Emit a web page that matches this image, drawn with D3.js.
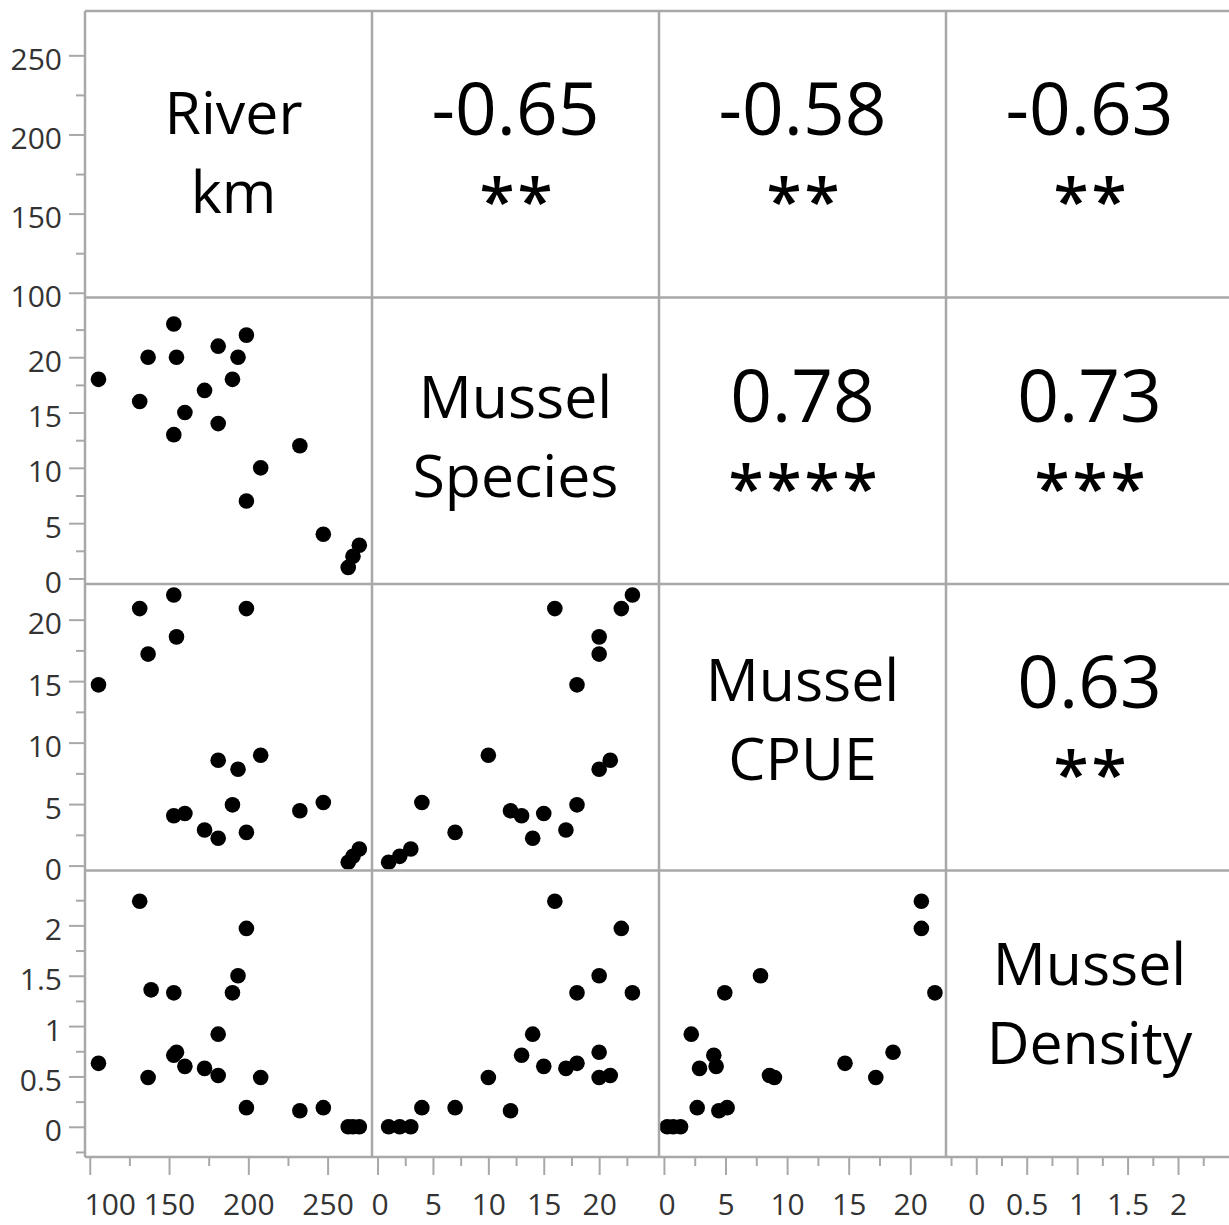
<!DOCTYPE html>
<html><head><meta charset="utf-8">
<script src="https://cdn.jsdelivr.net/npm/d3@7"></script>
<style>body{margin:0;background:#fff} svg{display:block}</style>
</head><body>
<svg id="chart" width="1229" height="1225"></svg>
<script>
// ---- data ----
const variables = ["River km", "Mussel Species", "Mussel CPUE", "Mussel Density"];
const labelLines = [["River", "km"], ["Mussel", "Species"], ["Mussel", "CPUE"], ["Mussel", "Density"]];
const riverKm =       [105.5, 131.5, 136.8, 153, 154.7, 153, 160, 172.4, 181, 181, 190, 193.5, 198.8, 198.8, 207.8, 232.5, 247.3, 263, 266, 270, 138.7];
const musselSpecies = [18, 16, 20, 23, 20, 13, 15, 17, 21, 14, 18, 20, 22, 7, 10, 12, 4, 1, 2, 3, null];
const musselCPUE =    [14.7, 20.9, 17.2, 22.0, 18.6, 4.05, 4.24, 2.89, 8.57, 2.22, 4.94, 7.84, 20.9, 2.7, 8.97, 4.46, 5.13, 0.27, 0.75, 1.35, null];
const musselDensity = [0.63, 2.24, 0.49, 1.33, 0.74, 0.71, 0.60, 0.58, 0.51, 0.92, 1.33, 1.50, 1.97, 0.19, 0.49, 0.16, 0.19, 0, 0, 0, 1.36];
const domains = [[97, 278], [-0.5, 25.4], [-0.4, 22.9], [-0.3, 2.545]];
const majorTicks = [[100, 150, 200, 250], [0, 5, 10, 15, 20], [0, 5, 10, 15, 20], [0, 0.5, 1, 1.5, 2]];
const minorTicks = [[125, 175, 225], [2.5, 7.5, 12.5, 17.5, 22.5], [2.5, 7.5, 12.5, 17.5], [-0.25, 0.25, 0.75, 1.25, 1.75, 2.25]];
const corrPairs = [[0, 1], [0, 2], [0, 3], [1, 2], [1, 3], [2, 3]];
const corrValues = ["-0.65", "-0.58", "-0.63", "0.78", "0.73", "0.63"];
const corrStars = ["**", "**", "**", "****", "***", "**"];

const series = [riverKm, musselSpecies, musselCPUE, musselDensity];

// ---- layout ----
const gLeft = 85, gTop = 11, cellW = 287, cellH = 286.5, n = 4;
const gridColor = "#a8a8a8";
const font = "'Open Sans', 'Noto Sans', sans-serif";

const svg = d3.select("#chart");
const xS = domains.map((d, i) => d3.scaleLinear().domain(d).range([gLeft + i * cellW, gLeft + (i + 1) * cellW]));
const yS = domains.map((d, i) => d3.scaleLinear().domain(d).range([gTop + (i + 1) * cellH, gTop + i * cellH]));

const defs = svg.append("defs");
for (let r = 0; r < n; r++) for (let c = 0; c < n; c++) {
  defs.append("clipPath").attr("id", `clip-${r}-${c}`)
    .append("rect").attr("x", gLeft + c * cellW + 1).attr("y", gTop + r * cellH + 1)
    .attr("width", cellW - 2).attr("height", cellH - 2);
}

// points (lower triangle)
const idx = d3.range(riverKm.length);
for (let r = 0; r < n; r++) for (let c = 0; c < r; c++) {
  const pts = idx.filter(k => series[c][k] != null && series[r][k] != null);
  svg.append("g").attr("clip-path", `url(#clip-${r}-${c})`)
    .selectAll("circle").data(pts).join("circle")
    .attr("cx", k => xS[c](series[c][k]))
    .attr("cy", k => yS[r](series[r][k]))
    .attr("r", 7.8).attr("fill", "#000");
}

// grid lines
const gridG = svg.append("g").attr("stroke", gridColor).attr("stroke-width", 2.5).attr("fill", "none");
for (let i = 0; i <= n; i++) {
  gridG.append("line").attr("x1", gLeft + i * cellW).attr("x2", gLeft + i * cellW)
    .attr("y1", gTop).attr("y2", gTop + n * cellH);
  gridG.append("line").attr("x1", gLeft).attr("x2", gLeft + n * cellW)
    .attr("y1", gTop + i * cellH).attr("y2", gTop + i * cellH);
}

// y axes (left)
const fmt = d3.format("~g");
const tickFont = 30;
for (let i = 0; i < n; i++) {
  const gMinor = svg.append("g").attr("transform", `translate(${gLeft},0)`)
    .call(d3.axisLeft(yS[i]).tickValues(minorTicks[i]).tickSize(9).tickFormat(""));
  const gMajor = svg.append("g").attr("transform", `translate(${gLeft},0)`)
    .call(d3.axisLeft(yS[i]).tickValues(majorTicks[i]).tickSize(16).tickPadding(7).tickFormat(fmt));
  [gMinor, gMajor].forEach(g => {
    g.select(".domain").remove();
    g.selectAll(".tick line").attr("stroke", gridColor).attr("stroke-width", 2);
    g.selectAll("text").attr("font-family", font).attr("font-size", tickFont).attr("fill", "#333").attr("dy", "0.47em");
  });
}

// x axes (bottom)
const gBottom = gTop + n * cellH;
for (let i = 0; i < n; i++) {
  const gMinor = svg.append("g").attr("transform", `translate(0,${gBottom})`)
    .call(d3.axisBottom(xS[i]).tickValues(minorTicks[i]).tickSize(9).tickFormat(""));
  const gMajor = svg.append("g").attr("transform", `translate(0,${gBottom})`)
    .call(d3.axisBottom(xS[i]).tickValues(majorTicks[i]).tickSize(18).tickPadding(19).tickFormat(fmt));
  [gMinor, gMajor].forEach(g => {
    g.select(".domain").remove();
    g.selectAll(".tick line").attr("stroke", gridColor).attr("stroke-width", 2);
    g.selectAll("text").attr("font-family", font).attr("font-size", tickFont).attr("fill", "#333");
  });
  const cellLeft = gLeft + i * cellW;
  gMajor.selectAll(".tick").each(function (d) {
    const t = d3.select(this).select("text");
    const w = t.node().getComputedTextLength();
    const x0 = xS[i](d) - w / 2;
    if (x0 < cellLeft) t.attr("x", cellLeft - x0 - 1);
  });
}

// diagonal labels
for (let i = 0; i < n; i++) {
  const cx = gLeft + (i + 0.5) * cellW + (i === 0 ? 5 : 0), cy = gTop + (i + 0.5) * cellH - 3 - 3 * i;
  const t = svg.append("text").attr("text-anchor", "middle").attr("font-family", font)
    .attr("font-size", 59).attr("fill", "#000");
  t.append("tspan").attr("x", cx).attr("y", cy - 17).text(labelLines[i][0]);
  t.append("tspan").attr("x", cx).attr("y", cy + 62).text(labelLines[i][1]);
}

// correlations (upper triangle)
corrPairs.forEach(([r, c], k) => {
  const cx = gLeft + (c + 0.5) * cellW, cy = gTop + (r + 0.5) * cellH;
  svg.append("text").attr("x", cx).attr("y", cy - 19).attr("text-anchor", "middle")
    .attr("font-family", font).attr("font-size", 73).attr("fill", "#000").text(corrValues[k]);
  svg.append("text").attr("x", cx + 2).attr("y", cy + 70).attr("text-anchor", "middle")
    .attr("font-family", font).attr("font-size", 64).attr("font-weight", 600)
    .attr("letter-spacing", 3).attr("fill", "#000").text(corrStars[k]);
});
</script>
</body></html>
